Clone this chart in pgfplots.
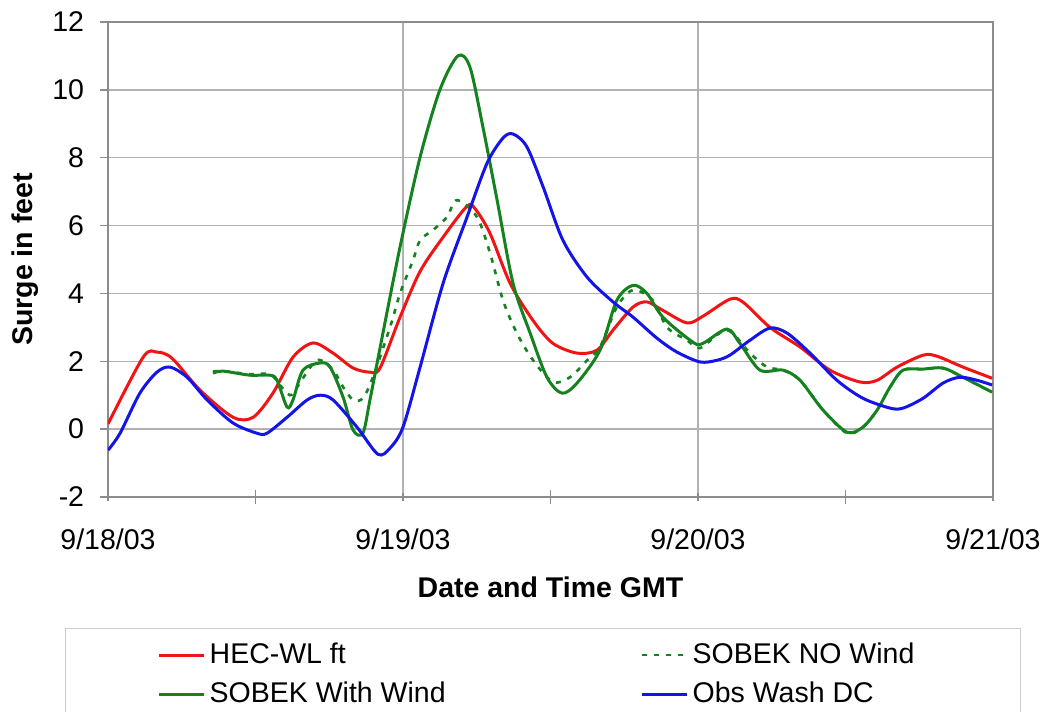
\documentclass[border=0pt]{standalone}
\usepackage{pgfplots}
\pgfplotsset{compat=1.18}
\usepackage{fontspec}
\setmainfont{Liberation Sans}
\definecolor{cred}{RGB}{240,20,20}
\definecolor{cgreen}{RGB}{20,130,30}
\definecolor{cblue}{RGB}{20,20,230}
\begin{document}
\fontsize{14.25pt}{17pt}\selectfont
\begin{tikzpicture}
\begin{axis}[
  at={(54pt,-11pt)}, anchor=north west,
  scale only axis, width=442.5pt, height=237.5pt,
  xmin=0, xmax=3, ymin=-2, ymax=12,
  xtick={0,1,2,3}, xticklabels={9/18/03,9/19/03,9/20/03,9/21/03},
  minor xtick={0.5,1.5,2.5},
  ytick={-2,0,2,4,6,8,10,12},
  xmajorgrids, ymajorgrids,
  grid style={gray!60, line width=0.7pt},
  axis line style={gray!90, line width=0.9pt},
  tick style={gray!90, line width=0.7pt},
  tick pos=left,
  xtick align=center, ytick align=outside,
  major tick length=4pt, minor tick length=7pt,
  /pgf/number format/assume math mode=true,
  ticklabel style={font=\fontsize{14.25pt}{17pt}\selectfont},
  yticklabel style={xshift=-3pt},
  xticklabel style={yshift=-9pt},
  xlabel={\textbf{Date and Time GMT}},
  ylabel={\textbf{Surge in feet}},
  xlabel style={at={(axis description cs:0.5,-0.1895)}, anchor=center},
  ylabel style={at={(axis description cs:-0.0938,0.5)}, anchor=center},
  legend columns=2,
  legend cell align=left,
  legend image code/.code={\draw[#1] (0pt,0pt) -- (22.5pt,0pt);},
  legend style={at={(axis description cs:-0.0486,-0.2758)}, anchor=north west,
    draw=gray!40, line width=0.7pt, inner xsep=46pt, inner ysep=5pt,
    font=\fontsize{14.25pt}{17pt}\selectfont, row sep=3pt,
    /tikz/every even column/.append style={column sep=95.5pt}},
]
\addplot[cred, line width=1.5pt, smooth, tension=0.5] coordinates {
(0.000,0.15) (0.119,2.12) (0.166,2.27) (0.217,2.09) (0.312,1.15) (0.424,0.35)
(0.492,0.35) (0.559,1.06) (0.627,2.12) (0.695,2.54) (0.763,2.24) (0.831,1.80)
(0.888,1.68) (0.922,1.80) (0.990,3.30) (1.058,4.65) (1.136,5.66) (1.217,6.57)
(1.244,6.50) (1.295,5.77) (1.363,4.30) (1.441,3.20) (1.508,2.53) (1.590,2.24)
(1.658,2.33) (1.712,2.92) (1.780,3.60) (1.827,3.75) (1.881,3.50) (1.963,3.13)
(2.017,3.33) (2.108,3.83) (2.153,3.74) (2.244,3.00) (2.346,2.42) (2.447,1.74)
(2.549,1.39) (2.607,1.44) (2.675,1.83) (2.763,2.18) (2.810,2.15) (2.898,1.83)
(2.997,1.50)};
\addlegendentry{HEC-WL ft}
\addplot[cgreen, line width=1.3pt, dash pattern=on 2.5pt off 3.5pt, smooth, tension=0.5] coordinates {
(0.356,1.70) (0.390,1.71) (0.481,1.62) (0.549,1.62) (0.583,1.30) (0.617,1.00)
(0.641,1.24) (0.708,2.03) (0.763,1.74) (0.797,1.24) (0.831,0.86) (0.864,0.91)
(0.898,1.53) (0.956,3.00) (0.990,4.00) (1.034,4.98) (1.058,5.57) (1.102,5.87)
(1.149,6.25) (1.183,6.75) (1.251,6.25) (1.295,5.19) (1.339,3.80) (1.386,2.83)
(1.441,2.03) (1.508,1.39) (1.566,1.53) (1.624,2.03) (1.668,2.42) (1.725,3.60)
(1.780,4.10) (1.847,3.80) (1.895,3.00) (1.963,2.62) (2.007,2.39) (2.098,2.92)
(2.176,2.24) (2.234,1.83) (2.288,1.74) (2.346,1.44) (2.424,0.56) (2.505,-0.12)
(2.559,0.06) (2.607,0.56) (2.651,1.24) (2.695,1.74) (2.763,1.77) (2.831,1.80)
(2.898,1.53) (2.997,1.09)};
\addlegendentry{SOBEK NO Wind\hspace*{5pt}}
\addplot[cgreen, line width=1.5pt, smooth, tension=0.5] coordinates {
(0.356,1.65) (0.390,1.71) (0.481,1.59) (0.549,1.59) (0.573,1.44) (0.607,0.65)
(0.627,0.86) (0.661,1.74) (0.719,1.95) (0.753,1.83) (0.797,0.94) (0.831,-0.03)
(0.864,-0.12) (0.888,0.86) (0.932,2.83) (0.990,5.37) (1.058,8.02) (1.125,10.0)
(1.186,11.0) (1.227,10.67) (1.271,8.90) (1.319,6.75) (1.373,4.30) (1.431,2.83)
(1.488,1.53) (1.539,1.06) (1.590,1.36) (1.668,2.33) (1.725,3.80) (1.780,4.24)
(1.827,4.00) (1.881,3.30) (1.983,2.56) (2.017,2.53) (2.098,2.95) (2.142,2.53)
(2.210,1.74) (2.288,1.74) (2.346,1.44) (2.424,0.56) (2.505,-0.09) (2.559,0.06)
(2.607,0.56) (2.651,1.24) (2.695,1.74) (2.763,1.77) (2.831,1.80) (2.898,1.53)
(2.997,1.09)};
\addlegendentry{SOBEK With Wind}
\addplot[cblue, line width=1.5pt, smooth, tension=0.5] coordinates {
(0.000,-0.62) (0.041,-0.12) (0.108,1.06) (0.166,1.68) (0.210,1.83) (0.268,1.53)
(0.336,0.86) (0.424,0.18) (0.505,-0.12) (0.539,-0.12) (0.607,0.35) (0.675,0.86)
(0.719,1.00) (0.763,0.86) (0.844,0.06) (0.915,-0.74) (0.956,-0.56) (1.000,0.06)
(1.058,1.83) (1.136,4.30) (1.217,6.25) (1.285,7.84) (1.339,8.58) (1.373,8.70)
(1.420,8.32) (1.475,7.14) (1.542,5.57) (1.624,4.48) (1.712,3.75) (1.780,3.30)
(1.861,2.68) (1.929,2.27) (2.007,1.98) (2.064,2.03) (2.108,2.18) (2.176,2.62)
(2.244,2.98) (2.302,2.83) (2.380,2.24) (2.471,1.44) (2.559,0.91) (2.651,0.62)
(2.695,0.62) (2.763,0.91) (2.831,1.36) (2.888,1.53) (2.946,1.44) (2.997,1.30)};
\addlegendentry{Obs Wash DC}
\end{axis}
\pgfresetboundingbox
\useasboundingbox (0,0) rectangle (522.5pt,-356pt);
\end{tikzpicture}
\end{document}
